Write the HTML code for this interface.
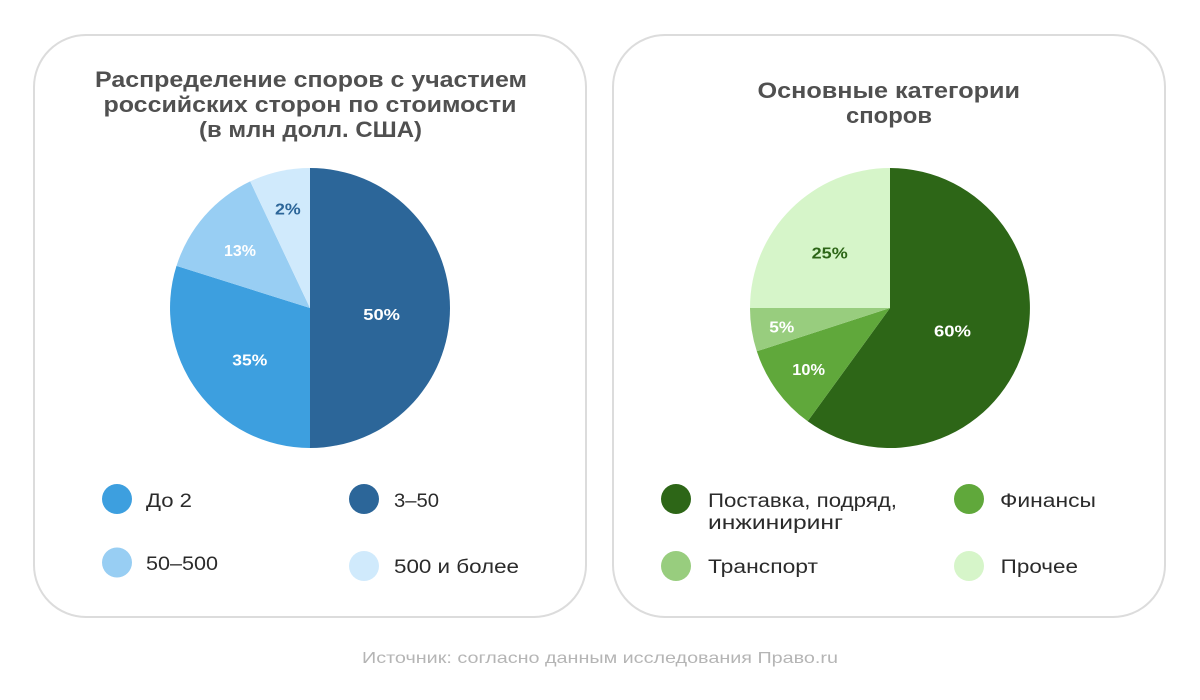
<!DOCTYPE html>
<html>
<head>
<meta charset="utf-8">
<style>
html,body{margin:0;padding:0;background:#fff;}
svg{display:block;}
text{font-family:"Liberation Sans","DejaVu Sans",sans-serif;}
</style>
</head>
<body>
<svg width="1200" height="700" viewBox="0 0 1200 700" xmlns="http://www.w3.org/2000/svg">
  <rect x="0" y="0" width="1200" height="700" fill="#ffffff"/>
  <!-- cards -->
  <rect x="34" y="35" width="552" height="582" rx="52" ry="52" fill="#ffffff" stroke="#dcdcdc" stroke-width="2"/>
  <rect x="613" y="35" width="552" height="582" rx="52" ry="52" fill="#ffffff" stroke="#dcdcdc" stroke-width="2"/>

  <!-- left title -->
  <g fill="#505050" font-size="22" font-weight="bold">
    <text x="95" y="87" textLength="432" lengthAdjust="spacingAndGlyphs">Распределение споров с участием</text>
    <text x="103.5" y="112" textLength="413" lengthAdjust="spacingAndGlyphs">российских сторон по стоимости</text>
    <text x="199" y="137" textLength="223" lengthAdjust="spacingAndGlyphs">(в млн долл. США)</text>
  </g>
  <!-- right title -->
  <g fill="#505050" font-size="22" font-weight="bold">
    <text x="757.5" y="98" textLength="262.5" lengthAdjust="spacingAndGlyphs">Основные категории</text>
    <text x="846" y="123" textLength="86" lengthAdjust="spacingAndGlyphs">споров</text>
  </g>

  <!-- left pie -->
  <path d="M310,308 L310,168 A140,140 0 0 1 310,448 Z" fill="#2c6699"/>
  <path d="M310,308 L310,448 A140,140 0 0 1 176.5,265.9 Z" fill="#3d9fdf"/>
  <path d="M310,308 L176.5,265.9 A140,140 0 0 1 250.2,181.4 Z" fill="#98cef3"/>
  <path d="M310,308 L250.2,181.4 A140,140 0 0 1 310,168 Z" fill="#d0eafc"/>
  <g font-size="16" font-weight="bold">
    <text x="363.3" y="320" fill="#ffffff" textLength="36.7" lengthAdjust="spacingAndGlyphs">50%</text>
    <text x="232.3" y="365.7" fill="#ffffff" textLength="35" lengthAdjust="spacingAndGlyphs">35%</text>
    <text x="224" y="256" fill="#ffffff" textLength="32" lengthAdjust="spacingAndGlyphs">13%</text>
    <text x="275" y="214.3" fill="#2c6699" textLength="25.7" lengthAdjust="spacingAndGlyphs">2%</text>
  </g>

  <!-- right pie -->
  <path d="M890,308 L890,168 A140,140 0 1 1 807.7,421.3 Z" fill="#2d6617"/>
  <path d="M890,308 L807.7,421.3 A140,140 0 0 1 756.8,351.3 Z" fill="#60a83b"/>
  <path d="M890,308 L756.8,351.3 A140,140 0 0 1 750,308 Z" fill="#98cd7e"/>
  <path d="M890,308 L750,308 A140,140 0 0 1 890,168 Z" fill="#d6f5c9"/>
  <g font-size="16" font-weight="bold">
    <text x="934" y="336.7" fill="#ffffff" textLength="37" lengthAdjust="spacingAndGlyphs">60%</text>
    <text x="792.3" y="375" fill="#ffffff" textLength="32.7" lengthAdjust="spacingAndGlyphs">10%</text>
    <text x="769.3" y="332.7" fill="#ffffff" textLength="25" lengthAdjust="spacingAndGlyphs">5%</text>
    <text x="811.7" y="258.3" fill="#2d6617" textLength="36" lengthAdjust="spacingAndGlyphs">25%</text>
  </g>

  <!-- left legend -->
  <circle cx="117" cy="499" r="15" fill="#3d9fdf"/>
  <circle cx="364" cy="499" r="15" fill="#2c6699"/>
  <circle cx="117" cy="562.5" r="15" fill="#98cef3"/>
  <circle cx="364" cy="566" r="15" fill="#d0eafc"/>
  <g fill="#2b2b2b" font-size="19">
    <text x="146" y="507" textLength="46" lengthAdjust="spacingAndGlyphs">До 2</text>
    <text x="394" y="507" textLength="45" lengthAdjust="spacingAndGlyphs">3–50</text>
    <text x="146" y="570" textLength="72" lengthAdjust="spacingAndGlyphs">50–500</text>
    <text x="394" y="573" textLength="125" lengthAdjust="spacingAndGlyphs">500 и более</text>
  </g>

  <!-- right legend -->
  <circle cx="676" cy="499" r="15" fill="#2d6617"/>
  <circle cx="969" cy="499" r="15" fill="#60a83b"/>
  <circle cx="676" cy="566" r="15" fill="#98cd7e"/>
  <circle cx="969" cy="566" r="15" fill="#d6f5c9"/>
  <g fill="#2b2b2b" font-size="19">
    <text x="708" y="507" textLength="189" lengthAdjust="spacingAndGlyphs">Поставка, подряд,</text>
    <text x="708" y="529" textLength="135" lengthAdjust="spacingAndGlyphs">инжиниринг</text>
    <text x="1000" y="507" textLength="96" lengthAdjust="spacingAndGlyphs">Финансы</text>
    <text x="708" y="573" textLength="110" lengthAdjust="spacingAndGlyphs">Транспорт</text>
    <text x="1000.7" y="573" textLength="77.3" lengthAdjust="spacingAndGlyphs">Прочее</text>
  </g>

  <!-- source -->
  <text x="362" y="663" fill="#b5b5b5" font-size="16" textLength="476" lengthAdjust="spacingAndGlyphs">Источник: согласно данным исследования Право.ru</text>
</svg>
</body>
</html>
